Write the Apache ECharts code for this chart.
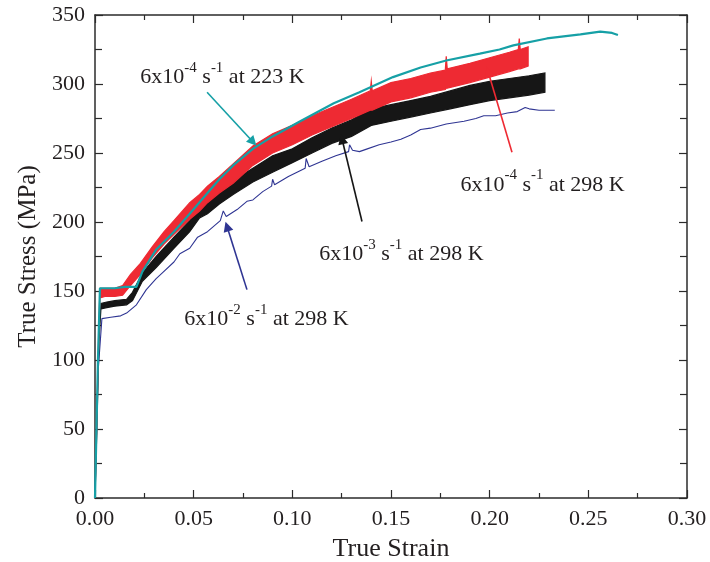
<!DOCTYPE html>
<html><head><meta charset="utf-8">
<script src="https://cdn.jsdelivr.net/npm/echarts@6/dist/echarts.min.js"></script>
<style>html,body{margin:0;padding:0;background:#fff}#c{width:710px;height:562px}</style>
</head><body><div id="c"></div>
<script>
// ---- data ----
// 6x10^-4 s^-1 at 223 K (cyan line)
const cyanStrain = [0, 0.0015, 0.0025, 0.005, 0.010, 0.015, 0.021, 0.024, 0.031, 0.040, 0.048, 0.057, 0.063, 0.070, 0.080, 0.090, 0.104, 0.121, 0.134, 0.151, 0.165, 0.178, 0.195, 0.205, 0.212, 0.229, 0.246, 0.256, 0.262, 0.265];
const cyanStress = [0, 100, 152, 152, 152, 153, 153, 164, 180, 193, 206, 221, 231, 241, 253, 262, 273, 286, 294, 305, 312, 317, 322, 325, 328, 333, 336, 338, 337, 335.5];

// 6x10^-4 s^-1 at 298 K (red noisy band: lower / upper edge)
const redStrain = [0, 0.001, 0.002, 0.0025, 0.005, 0.010, 0.014, 0.018, 0.023, 0.029, 0.035, 0.040, 0.048, 0.053, 0.057, 0.063, 0.070, 0.080, 0.090, 0.100, 0.110, 0.120, 0.130, 0.1395, 0.140, 0.1405, 0.150, 0.160, 0.170, 0.1775, 0.178, 0.1785, 0.190, 0.200, 0.210, 0.2145, 0.215, 0.2155, 0.2195];
const redLow    = [0, 58, 122, 145, 146, 146, 147, 154, 162, 174, 184, 191, 202, 208, 214, 221, 228, 241, 250, 256, 263, 269, 275, 281, 281, 281, 287, 290, 294, 296, 297, 297, 301, 305, 309, 311, 311, 311, 313];
const redHigh   = [0, 62, 128, 152, 152, 152, 154, 162, 170, 182, 193, 201, 214, 220, 226, 233, 242, 255, 264, 270, 277, 283, 289, 295, 302, 295, 301, 304, 308, 310, 320, 311, 315, 319, 323, 325, 333, 325, 327];

// 6x10^-3 s^-1 at 298 K (black noisy band)
const blackStrain = [0, 0.001, 0.002, 0.003, 0.006, 0.010, 0.016, 0.019, 0.024, 0.031, 0.040, 0.048, 0.053, 0.057, 0.063, 0.070, 0.080, 0.090, 0.100, 0.110, 0.120, 0.130, 0.140, 0.150, 0.160, 0.170, 0.180, 0.190, 0.200, 0.210, 0.220, 0.228];
const blackLow    = [0, 54, 113, 137, 138, 139, 140, 143, 157, 167, 181, 193, 203, 206, 213, 220, 229, 236, 243, 250, 257, 262, 270, 273, 276, 279, 282, 285, 288, 290, 292, 294];
const blackHigh   = [0, 56, 117, 141, 142, 143, 144, 149, 163, 175, 189, 201, 211, 216, 223, 230, 239, 248, 253, 261, 268, 274, 282, 285, 288, 291, 295, 299, 302, 304, 306, 308];

// 6x10^-2 s^-1 at 298 K (blue thin line)
const blueStrain = [0, 0.0015, 0.0035, 0.008, 0.013, 0.016, 0.021, 0.026, 0.031, 0.034, 0.040, 0.043, 0.048, 0.052, 0.057, 0.0635, 0.065, 0.0665, 0.072, 0.077, 0.080, 0.085, 0.0895, 0.090, 0.091, 0.098, 0.1065, 0.107, 0.1085, 0.115, 0.122, 0.1285, 0.129, 0.1305, 0.134, 0.138, 0.144, 0.150, 0.155, 0.160, 0.165, 0.170, 0.178, 0.187, 0.193, 0.197, 0.203, 0.209, 0.214, 0.218, 0.220, 0.225, 0.228, 0.233];
const blueStress = [0, 90, 130, 131, 132, 134, 140, 151, 159, 163, 171, 177, 181, 189, 193, 201, 208, 204, 209, 215, 216, 222, 226, 231, 227, 233, 239, 246, 240, 244, 248, 251, 256, 252, 251, 253, 256, 258, 260, 263, 267, 268, 271, 273, 275, 277, 277, 279, 280, 283, 282, 281, 281, 281];

// axis ticks
const strainMin = 0, strainMax = 0.30, strainStep = 0.05;
const stressMin = 0, stressMax = 350, stressStep = 50;

// annotations: exponent + temperature; label centre (strain, stress); arrow from / to (strain, stress)
const annotTexts = [['-4', '223 K'], ['-4', '298 K'], ['-3', '298 K'], ['-2', '298 K']];
const annotLabelAt = [[0.0646, 307], [0.2268, 229], [0.1553, 178.6], [0.0869, 131.4]];
const annotArrowFrom = [[0.0568, 294], [0.2113, 250.5], [0.1353, 200.4], [0.0770, 151]];
const annotArrowTo = [[0.0801, 258], [0.1992, 309], [0.1252, 260], [0.0669, 196.8]];

// ---- styles ----
const COL = { cyan: '#16a0a6', red: '#ee2a33', black: '#161616', blue: '#2f3593', text: '#231f20', axis: '#2b2b2b' };
const annotColors = [COL.cyan, COL.red, COL.black, COL.blue];
const FONT = '"Liberation Serif", "Times New Roman", serif';

function zip2(a, b) { return a.map((v, i) => [v, b[i]]); }
function zip3(a, b, c) { return a.map((v, i) => [v, b[i], c[i]]); }

function bandSeries(name, xs, lo, hi, color) {
  return {
    name, type: 'custom', z: 3, clip: true,
    data: zip3(xs, lo, hi),
    encode: { x: 0, y: [1, 2] },
    renderItem: function (params, api) {
      if (params.dataIndex !== 0) return null;
      const pts = [];
      for (let i = 0; i < xs.length; i++) pts.push(api.coord([xs[i], hi[i]]));
      for (let i = xs.length - 1; i >= 0; i--) pts.push(api.coord([xs[i], lo[i]]));
      return {
        type: 'polygon',
        shape: { points: pts },
        style: { fill: color, stroke: color, lineWidth: 1.2 }
      };
    }
  };
}

const chart = echarts.init(document.getElementById('c'), null, { renderer: 'canvas' });

const xBase = {
  type: 'value', min: strainMin, max: strainMax, interval: strainStep,
  axisLine: { show: true, onZero: false, lineStyle: { color: COL.axis, width: 1.5 } },
  axisTick: { show: true, inside: true, length: 8, lineStyle: { color: COL.axis, width: 1.2 } },
  minorTick: { show: true, splitNumber: 2, length: 5, lineStyle: { color: COL.axis, width: 1.2 } },
  splitLine: { show: false }, minorSplitLine: { show: false }
};
const yBase = {
  type: 'value', min: stressMin, max: stressMax, interval: stressStep,
  axisLine: { show: true, onZero: false, lineStyle: { color: COL.axis, width: 1.5 } },
  axisTick: { show: true, inside: true, length: 8, lineStyle: { color: COL.axis, width: 1.2 } },
  minorTick: { show: true, splitNumber: 2, length: 7, lineStyle: { color: COL.axis, width: 1.2 } },
  splitLine: { show: false }, minorSplitLine: { show: false }
};

const annotLabelData = annotLabelAt.map((p, i) => ({
  coord: p,
  label: {
    show: true, position: 'inside',
    formatter: '{n|6x10}{s|' + annotTexts[i][0] + '}{n| s}{s|-1}{n| at ' + annotTexts[i][1] + '}',
    rich: {
      n: { fontFamily: FONT, fontSize: 22, color: COL.text, lineHeight: 28, verticalAlign: 'bottom' },
      s: { fontFamily: FONT, fontSize: 15, color: COL.text, lineHeight: 28, verticalAlign: 'top' }
    }
  }
}));
const annotArrowData = annotArrowFrom.map((p, i) => [
  { coord: p, lineStyle: { color: annotColors[i], width: 1.6, type: 'solid' }, itemStyle: { color: annotColors[i] } },
  { coord: annotArrowTo[i] }
]);

chart.setOption({
  animation: false,
  backgroundColor: '#fff',
  grid: { left: 95, right: 23, top: 15, bottom: 64, containLabel: false, outerBoundsMode: 'none' },
  xAxis: [
    Object.assign({}, xBase, {
      position: 'bottom',
      name: 'True Strain', nameLocation: 'middle', nameGap: 38,
      nameTextStyle: { fontFamily: FONT, fontSize: 26, color: COL.text },
      axisLabel: { show: true, margin: 10, fontFamily: FONT, fontSize: 22, color: COL.text, formatter: v => v.toFixed(2) }
    }),
    Object.assign({}, xBase, { position: 'top', axisLabel: { show: false } })
  ],
  yAxis: [
    Object.assign({}, yBase, {
      position: 'left',
      name: 'True Stress (MPa)', nameLocation: 'middle', nameGap: 54, nameRotate: 90,
      nameTextStyle: { fontFamily: FONT, fontSize: 25, color: COL.text },
      axisLabel: { show: true, margin: 10, fontFamily: FONT, fontSize: 22, color: COL.text }
    }),
    Object.assign({}, yBase, { position: 'right', axisLabel: { show: false } })
  ],
  series: [
    {
      name: '6x10^-2 at 298 K', type: 'line', data: zip2(blueStrain, blueStress), z: 2,
      showSymbol: false, symbol: 'none', lineStyle: { color: COL.blue, width: 1.1 }
    },
    bandSeries('6x10^-3 at 298 K', blackStrain, blackLow, blackHigh, COL.black),
    bandSeries('6x10^-4 at 298 K', redStrain, redLow, redHigh, COL.red),
    {
      name: '6x10^-4 at 223 K', type: 'line', data: zip2(cyanStrain, cyanStress), z: 4,
      showSymbol: false, symbol: 'none', lineStyle: { color: COL.cyan, width: 2.2 }
    },
    {
      name: 'annotations', type: 'line', data: [], z: 6, silent: true,
      markLine: {
        silent: true, animation: false,
        symbol: ['none', 'triangle'], symbolSize: 10,
        label: { show: false },
        data: annotArrowData
      },
      markPoint: {
        silent: true, animation: false,
        symbol: 'circle', symbolSize: 0,
        itemStyle: { color: 'transparent' },
        data: annotLabelData
      }
    }
  ]
});
</script>
</body></html>
